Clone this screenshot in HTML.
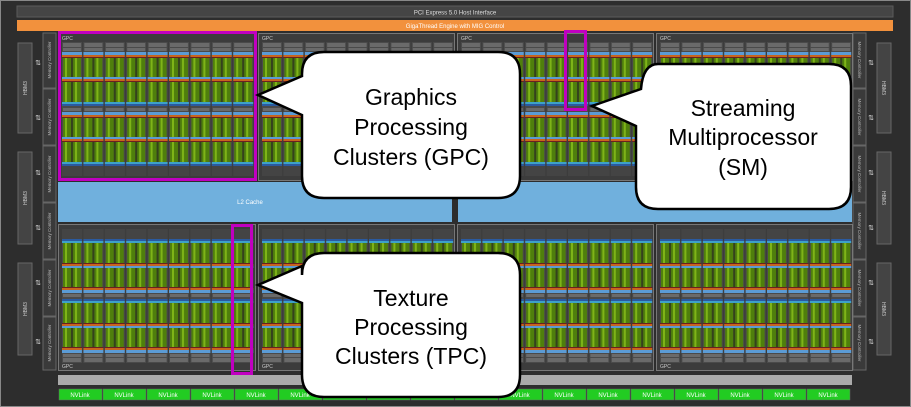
<!DOCTYPE html>
<html><head><meta charset="utf-8"><style>
html,body{margin:0;padding:0;background:#2d2d2d;}
svg{display:block;}
</style></head><body>
<svg width="911" height="407" viewBox="0 0 911 407" xmlns="http://www.w3.org/2000/svg" font-family="Liberation Sans, sans-serif">
<defs>
<g id="sm">
  <rect x="0" y="0" width="20" height="3" fill="#5b9bd5"/>
  <rect x="0" y="3" width="20" height="2" fill="#c8641e"/>
  <rect x="1" y="5" width="8" height="20" fill="#4f7f0c"/>
  <rect x="11" y="5" width="8" height="20" fill="#4f7f0c"/>
  <rect x="3" y="5" width="2" height="20" fill="#7fb418"/>
  <rect x="13" y="5" width="2" height="20" fill="#7fb418"/>
  <rect x="9" y="5" width="2" height="20" fill="#34421c"/>
  <rect x="0" y="5" width="20" height="1" fill="#6a2020"/>
  <rect x="0" y="25" width="20" height="2" fill="#5b9bd5"/>
  <rect x="0" y="27" width="20" height="2" fill="#c8641e"/>
  <rect x="1" y="29" width="8" height="21" fill="#4f7f0c"/>
  <rect x="11" y="29" width="8" height="21" fill="#4f7f0c"/>
  <rect x="3" y="29" width="2" height="21" fill="#7fb418"/>
  <rect x="13" y="29" width="2" height="21" fill="#7fb418"/>
  <rect x="9" y="29" width="2" height="21" fill="#34421c"/>
  <rect x="0" y="29" width="20" height="1" fill="#6a2020"/>
  <rect x="0" y="50" width="20" height="2" fill="#3ea0c8"/>
  <rect x="0" y="52" width="20" height="2" fill="#2a5aa0"/>
</g>
<pattern id="tpc" x="0" y="0" width="21.4" height="134" patternUnits="userSpaceOnUse">
  <rect x="0" y="0" width="20" height="134" fill="#4a4a4a"/>
  <rect x="1" y="1" width="18" height="4" fill="#6a6a6a"/>
  <rect x="1" y="6" width="18" height="3" fill="#6a6a6a"/>
  <use href="#sm" x="0" y="10"/>
  <rect x="1" y="66" width="18" height="3" fill="#6a6a6a"/>
  <use href="#sm" x="0" y="70"/>
  <rect x="0" y="124" width="20" height="10" fill="#444"/>
</pattern>
</defs>
<rect x="0" y="0" width="911" height="407" fill="#2d2d2d"/>
<rect x="0.5" y="0.5" width="910" height="406" fill="none" stroke="#888"/>
<rect x="17" y="6" width="876" height="11" fill="#454545" stroke="#5a5a5a"/>
<text x="455" y="14.5" font-size="6" fill="#ddd" text-anchor="middle">PCI Express 5.0 Host Interface</text>
<rect x="17" y="20" width="876" height="11" fill="#f2913d"/>
<text x="455" y="28" font-size="6" fill="#fff" text-anchor="middle">GigaThread Engine with MIG Control</text>
<g fill="#444" stroke="#666">
<rect x="18" y="43" width="14" height="90"/><rect x="18" y="152" width="14" height="92"/><rect x="18" y="263" width="14" height="92"/>
<rect x="877" y="43" width="14" height="90"/><rect x="877" y="152" width="14" height="92"/><rect x="877" y="263" width="14" height="92"/>
</g>
<g font-size="5" fill="#ccc" text-anchor="middle">
<text transform="translate(27,88) rotate(-90)">HBM3</text><text transform="translate(27,198) rotate(-90)">HBM3</text><text transform="translate(27,309) rotate(-90)">HBM3</text>
<text transform="translate(882,88) rotate(90)">HBM3</text><text transform="translate(882,198) rotate(90)">HBM3</text><text transform="translate(882,309) rotate(90)">HBM3</text>
</g>
<g font-size="7" fill="#ddd" text-anchor="middle">
<text x="38" y="65">⇅</text><text x="38" y="120">⇅</text><text x="38" y="175">⇅</text><text x="38" y="230">⇅</text><text x="38" y="285">⇅</text><text x="38" y="344">⇅</text>
<text x="871" y="65">⇅</text><text x="871" y="120">⇅</text><text x="871" y="175">⇅</text><text x="871" y="230">⇅</text><text x="871" y="285">⇅</text><text x="871" y="344">⇅</text>
</g>
<g fill="#3a3a3a" stroke="#666">
<rect x="43" y="33" width="13" height="55"/><rect x="43" y="89" width="13" height="56"/><rect x="43" y="146" width="13" height="56"/><rect x="43" y="203" width="13" height="56"/><rect x="43" y="260" width="13" height="56"/><rect x="43" y="317" width="13" height="53"/>
<rect x="853" y="33" width="13" height="55"/><rect x="853" y="89" width="13" height="56"/><rect x="853" y="146" width="13" height="56"/><rect x="853" y="203" width="13" height="56"/><rect x="853" y="260" width="13" height="56"/><rect x="853" y="317" width="13" height="53"/>
</g>
<g font-size="4.5" fill="#bbb" text-anchor="middle">
<text transform="translate(51,60) rotate(-90)">Memory Controller</text><text transform="translate(51,117) rotate(-90)">Memory Controller</text><text transform="translate(51,174) rotate(-90)">Memory Controller</text><text transform="translate(51,231) rotate(-90)">Memory Controller</text><text transform="translate(51,288) rotate(-90)">Memory Controller</text><text transform="translate(51,343) rotate(-90)">Memory Controller</text>
<text transform="translate(858,60) rotate(90)">Memory Controller</text><text transform="translate(858,117) rotate(90)">Memory Controller</text><text transform="translate(858,174) rotate(90)">Memory Controller</text><text transform="translate(858,231) rotate(90)">Memory Controller</text><text transform="translate(858,288) rotate(90)">Memory Controller</text><text transform="translate(858,343) rotate(90)">Memory Controller</text>
</g>
<rect x="58" y="182" width="794" height="40" fill="#70b0dd"/>
<rect x="452" y="182" width="6" height="42" fill="#2d2d2d"/>
<text x="250" y="204" font-size="6" fill="#fff" text-anchor="middle">L2 Cache</text>
<g fill="#3c3c3c" stroke="#777">
<rect x="58.5" y="33.5" width="197" height="147"/><rect x="258.5" y="33.5" width="196" height="147"/><rect x="457.5" y="33.5" width="196" height="147"/><rect x="656.5" y="33.5" width="196" height="147"/>
<rect x="58.5" y="224.5" width="197" height="146"/><rect x="258.5" y="224.5" width="196" height="146"/><rect x="457.5" y="224.5" width="196" height="146"/><rect x="656.5" y="224.5" width="196" height="146"/>
</g>
<g font-size="5" fill="#ccc">
<text x="62" y="40">GPC</text><text x="262" y="40">GPC</text><text x="461" y="40">GPC</text><text x="660" y="40">GPC</text>
<text x="62" y="368">GPC</text><text x="262" y="368">GPC</text><text x="461" y="368">GPC</text><text x="660" y="368">GPC</text>
</g>
<g transform="translate(62,42)"><rect width="192" height="134" fill="url(#tpc)"/></g>
<g transform="translate(262,42)"><rect width="192" height="134" fill="url(#tpc)"/></g>
<g transform="translate(461,42)"><rect width="192" height="134" fill="url(#tpc)"/></g>
<g transform="translate(660,42)"><rect width="192" height="134" fill="url(#tpc)"/></g>
<g transform="translate(62,363) scale(1,-1)"><rect width="192" height="134" fill="url(#tpc)"/></g>
<g transform="translate(262,363) scale(1,-1)"><rect width="192" height="134" fill="url(#tpc)"/></g>
<g transform="translate(461,363) scale(1,-1)"><rect width="192" height="134" fill="url(#tpc)"/></g>
<g transform="translate(660,363) scale(1,-1)"><rect width="192" height="134" fill="url(#tpc)"/></g>
<rect x="58" y="375" width="794" height="10" fill="#aaaaaa"/>
<g fill="#22cc22" stroke="#666" stroke-width="0.5">
<rect x="59" y="389" width="43" height="11"/><rect x="103" y="389" width="43" height="11"/><rect x="147" y="389" width="43" height="11"/><rect x="191" y="389" width="43" height="11"/><rect x="235" y="389" width="43" height="11"/><rect x="279" y="389" width="43" height="11"/><rect x="323" y="389" width="43" height="11"/><rect x="367" y="389" width="43" height="11"/><rect x="411" y="389" width="43" height="11"/><rect x="455" y="389" width="43" height="11"/><rect x="499" y="389" width="43" height="11"/><rect x="543" y="389" width="43" height="11"/><rect x="587" y="389" width="43" height="11"/><rect x="631" y="389" width="43" height="11"/><rect x="675" y="389" width="43" height="11"/><rect x="719" y="389" width="43" height="11"/><rect x="763" y="389" width="43" height="11"/><rect x="807" y="389" width="43" height="11"/>
</g>
<g font-size="6" fill="#fff" text-anchor="middle">
<text x="80" y="397">NVLink</text><text x="124" y="397">NVLink</text><text x="168" y="397">NVLink</text><text x="212" y="397">NVLink</text><text x="256" y="397">NVLink</text><text x="300" y="397">NVLink</text><text x="344" y="397">NVLink</text><text x="388" y="397">NVLink</text><text x="432" y="397">NVLink</text><text x="476" y="397">NVLink</text><text x="520" y="397">NVLink</text><text x="564" y="397">NVLink</text><text x="608" y="397">NVLink</text><text x="652" y="397">NVLink</text><text x="696" y="397">NVLink</text><text x="740" y="397">NVLink</text><text x="784" y="397">NVLink</text><text x="828" y="397">NVLink</text>
</g>
<g fill="none" stroke="#c000c0" stroke-width="3">
<rect x="59.5" y="32.5" width="196" height="147"/>
<rect x="565.5" y="31.5" width="20" height="78"/>
<rect x="232.5" y="225.5" width="19" height="148"/>
</g>
<g fill="#fff" stroke="#000" stroke-width="2.5" stroke-linejoin="miter">
<path d="M324,52 H498 Q520,52 520,74 V176 Q520,198 498,198 H324 Q302,198 302,176 V115 L258,95 L302,76 V74 Q302,52 324,52 Z"/>
<path d="M658,64 H829 Q851,64 851,86 V187 Q851,209 829,209 H658 Q636,209 636,187 V126 L592,106 L641,89 Q643,64 658,64 Z"/>
<path d="M324,253 H498 Q520,253 520,275 V375 Q520,397 498,397 H324 Q302,397 302,375 V303 L258,285 L302,266 V275 Q302,253 324,253 Z"/>
</g>
<g font-size="23" fill="#000" text-anchor="middle">
<text x="411" y="105">Graphics</text><text x="411" y="135">Processing</text><text x="411" y="165">Clusters (GPC)</text>
<text x="743" y="116">Streaming</text><text x="743" y="145">Multiprocessor</text><text x="743" y="175">(SM)</text>
<text x="411" y="306">Texture</text><text x="411" y="335">Processing</text><text x="411" y="364">Clusters (TPC)</text>
</g>
</svg>
</body></html>
